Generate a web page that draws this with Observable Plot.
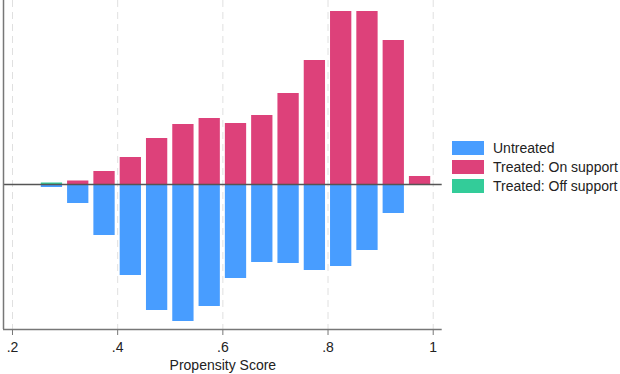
<!DOCTYPE html>
<html>
<head>
<meta charset="utf-8">
<script src="https://cdn.jsdelivr.net/npm/d3@7"></script>
<script src="https://cdn.jsdelivr.net/npm/@observablehq/plot@0.6"></script>
<style>
  body { margin: 0; background: #fff; font-family: "Liberation Sans", Arial, sans-serif; }
  #wrap { position: relative; width: 620px; height: 374px; }
  #chart { position: absolute; left: 0; top: 0; }
  #chart svg text { font-size: 14px; fill: #222; }
  #legend { position: absolute; left: 452px; top: 138px; font-size: 14px; color: #222; }
  .row { display: flex; align-items: center; height: 19px; }
  .sw { width: 32px; height: 14px; margin-right: 9px; }
</style>
</head>
<body>
<div id="wrap"><div id="chart"></div><div id="legend"></div></div>
<script>
// Bin starts (width 0.05)
const binStart = [0.25, 0.30, 0.35, 0.40, 0.45, 0.50, 0.55, 0.60, 0.65, 0.70, 0.75, 0.80, 0.85, 0.90, 0.95];
const binWidth = 0.05;
// Frequencies (estimated)
const untreated  = [3, 19, 51, 91, 126, 137, 122, 94, 78, 79, 86, 82, 66, 29, 0];
const treatedOn  = [0, 3.5, 13, 27, 46, 60, 66, 61, 69, 91, 124, 173, 173, 144, 8];
const treatedOff = [1.5, 0, 0, 0, 0, 0, 0, 0, 0, 0, 0, 0, 0, 0, 0];
const xTicks = [0.2, 0.4, 0.6, 0.8, 1];
const seriesNames = ["Untreated", "Treated: On support", "Treated: Off support"];
const seriesColors = ["#489dff", "#dd417a", "#33cc99"];

const rows = binStart.map((b, i) => ({x1: b, x2: b + binWidth, un: -untreated[i], on: treatedOn[i], off: treatedOff[i]}));
const xDomain = [0.1829, 1.0171];
const yDomain = [-145, 184];

const barOpts = {x1: "x1", x2: "x2", insetLeft: 2.5, insetRight: 2.5};

const chart = Plot.plot({
  width: 445,
  height: 374,
  marginLeft: 3,
  marginRight: 3.3,
  marginTop: 0,
  marginBottom: 45,
  style: {fontFamily: "Liberation Sans, Arial, sans-serif", fontSize: "14px", color: "#222", background: "#fff"},
  x: {domain: xDomain},
  y: {domain: yDomain, axis: null},
  marks: [
    Plot.gridX(xTicks, {stroke: "#e0e0e0", strokeOpacity: 1, strokeDasharray: "7,5", strokeWidth: 1}),
    Plot.rect(rows.filter(d => d.un !== 0), {...barOpts, y1: 0, y2: "un", fill: seriesColors[0]}),
    Plot.rect(rows.filter(d => d.on !== 0), {...barOpts, y1: 0, y2: "on", fill: seriesColors[1]}),
    Plot.rect(rows.filter(d => d.off !== 0), {...barOpts, y1: 0, y2: "off", fill: seriesColors[2]}),
    Plot.ruleY([0], {stroke: "#555", strokeWidth: 1.3}),
    Plot.ruleX([xDomain[0]], {stroke: "#777", strokeWidth: 1.5}),
    Plot.ruleY([yDomain[0]], {stroke: "#777", strokeWidth: 1.5}),
    Plot.axisX(xTicks, {
      tickSize: 6, tickPadding: 7, stroke: "#777",
      tickFormat: d => d === 1 ? "1" : String(d).replace(/^0/, ""),
      fontSize: 14,
      label: "Propensity Score", labelAnchor: "center", labelArrow: "none", labelOffset: 40
    })
  ]
});
document.getElementById("chart").appendChild(chart);

const legend = document.getElementById("legend");
seriesNames.forEach((n, i) => {
  const r = document.createElement("div");
  r.className = "row";
  r.innerHTML = `<div class="sw" style="background:${seriesColors[i]}"></div><span>${n}</span>`;
  legend.appendChild(r);
});
</script>
</body>
</html>
